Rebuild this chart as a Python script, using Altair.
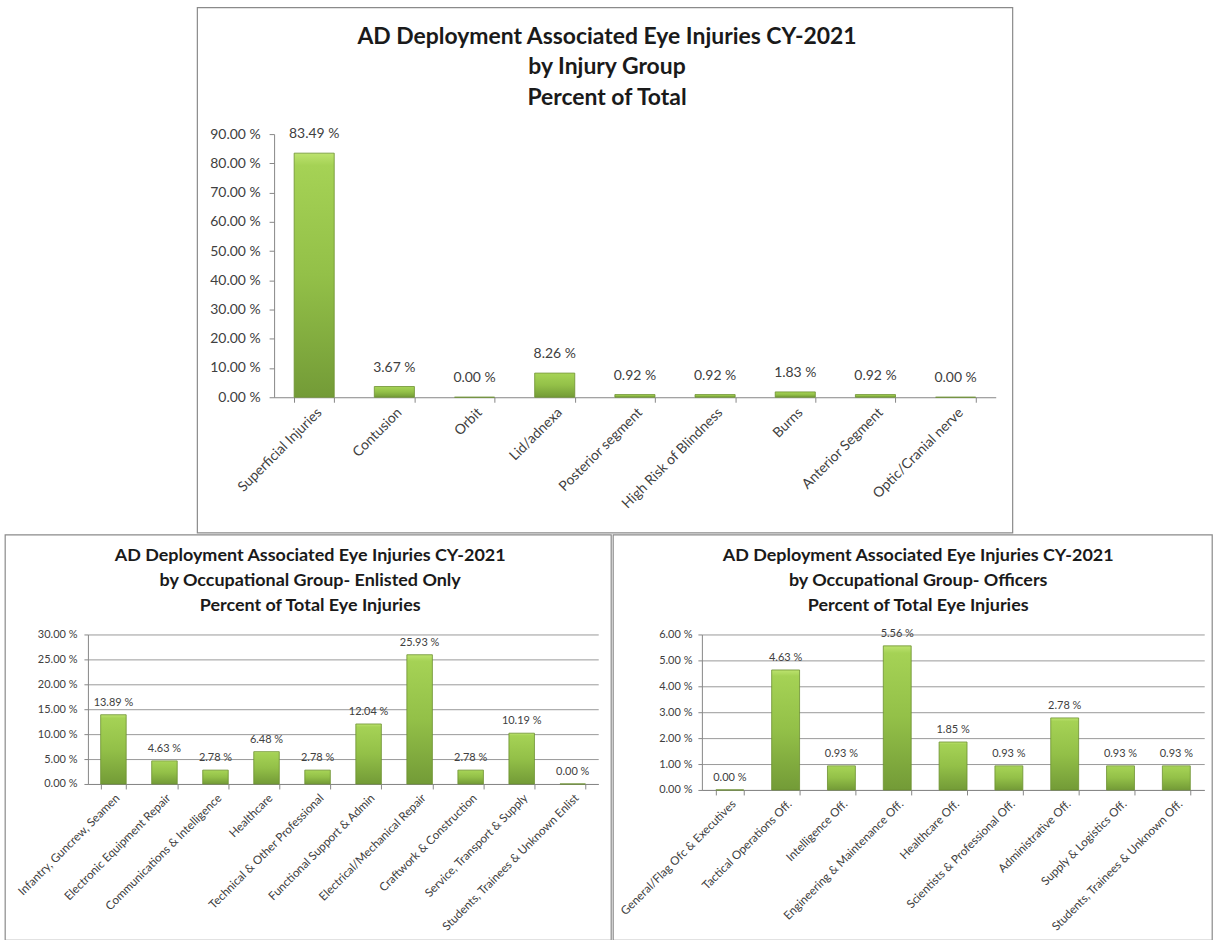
import altair as alt
import pandas as pd

# ---------------- data ----------------
injury_groups = ["Superficial Injuries", "Contusion", "Orbit", "Lid/adnexa",
                 "Posterior segment", "High Risk of Blindness", "Burns",
                 "Anterior Segment", "Optic/Cranial nerve"]
injury_pct = [83.49, 3.67, 0.00, 8.26, 0.92, 0.92, 1.83, 0.92, 0.00]

enlisted_groups = ["Infantry, Guncrew, Seamen", "Electronic Equipment Repair",
                   "Communications & Intelligence", "Healthcare",
                   "Technical & Other Professional", "Functional Support & Admin",
                   "Electrical/Mechanical Repair", "Craftwork & Construction",
                   "Service, Transport & Supply", "Students, Trainees & Unknown Enlist"]
enlisted_pct = [13.89, 4.63, 2.78, 6.48, 2.78, 12.04, 25.93, 2.78, 10.19, 0.00]

officer_groups = ["General/Flag Ofc & Executives", "Tactical Operations Off.",
                  "Intelligence Off.", "Engineering & Maintenance Off.",
                  "Healthcare Off.", "Scientists & Professional Off.",
                  "Administrative Off.", "Supply & Logistics Off.",
                  "Students, Trainees & Unknown Off."]
officer_pct = [0.00, 4.63, 0.93, 5.56, 1.85, 0.93, 2.78, 0.93, 0.93]

top_ticks = [0, 10, 20, 30, 40, 50, 60, 70, 80, 90]
enl_ticks = [0, 5, 10, 15, 20, 25, 30]
off_ticks = [0, 1, 2, 3, 4, 5, 6]

FONT = "Lato"
AXIS_GRAY = "#878787"
TEXT = "#404040"

bar_fill = alt.Gradient(
    gradient="linear", x1=0, x2=0, y1=0, y2=1,
    stops=[alt.GradientStop(offset=0, color="#bde36f"),
           alt.GradientStop(offset=0.05, color="#a5d255"),
           alt.GradientStop(offset=0.5, color="#93c048"),
           alt.GradientStop(offset=1, color="#739b37")])


def make_chart(cats, vals, ticks, width, height, frame, title_lines,
               title_size, line_height, title_offset, title_dx, font_size,
               label_dy, grid, tick_size, label_pad, x_label_size,
               right_reserve=None):
    df = pd.DataFrame({"cat": cats, "value": vals})
    base = alt.Chart(df).encode(
        x=alt.X("cat:N", sort=cats,
                scale=alt.Scale(paddingInner=0.5, paddingOuter=0.25),
                axis=alt.Axis(title=None, labelAngle=-45, tickBand="extent",
                              labelFont=FONT, labelFontSize=x_label_size,
                              labelColor=TEXT, domainColor=AXIS_GRAY,
                              tickColor=AXIS_GRAY, tickSize=5, labelPadding=3,
                              labelLimit=300)),
        y=alt.Y("value:Q",
                scale=alt.Scale(domain=[ticks[0], ticks[-1]], nice=False),
                axis=alt.Axis(title=None, values=ticks,
                              labelExpr="format(datum.value, '.2f') + ' %'",
                              labelFont=FONT, labelFontSize=font_size,
                              labelColor=TEXT, grid=grid, gridColor="#9a9a9a",
                              domainColor=AXIS_GRAY, tickColor=AXIS_GRAY,
                              tickSize=tick_size, labelPadding=label_pad)),
    )
    bars = base.mark_bar(color=bar_fill, stroke="#6c9030", strokeWidth=0.8)
    labels = base.transform_calculate(
        label="format(datum.value, '.2f') + ' %'"
    ).mark_text(font=FONT, fontSize=font_size, color=TEXT,
                baseline="middle", dy=label_dy).encode(text="label:N")
    x0, x1, y0, y1 = frame
    one = pd.DataFrame({"f": [0]})
    box = alt.Chart(one).mark_rect(
        fillOpacity=0, stroke="#8a8a8a", strokeWidth=1.2
    ).encode(x=alt.value(x0), x2=alt.value(x1), y=alt.value(y0), y2=alt.value(y1))
    layers = [box, bars, labels]
    if right_reserve is not None:
        spacer = alt.Chart(one).mark_rect(opacity=0).encode(
            x=alt.value(right_reserve - 1), x2=alt.value(right_reserve),
            y=alt.value(0), y2=alt.value(1))
        layers.insert(0, spacer)
    return alt.layer(*layers).properties(
        width=width, height=height,
        title=alt.TitleParams(title_lines, font=FONT, fontSize=title_size,
                              fontWeight="bold", color="#1a1a1a",
                              lineHeight=line_height, offset=title_offset,
                              dx=title_dx))


top = make_chart(injury_groups, injury_pct, top_ticks, 724, 264,
                 (-77, 741, -127, 400),
                 ["AD Deployment Associated Eye Injuries CY-2021",
                  "by Injury Group", "Percent of Total"],
                 23, 30.5, -103, -28, 14, -19, False, 5, 9, 14,
                 right_reserve=755)

enl = make_chart(enlisted_groups, enlisted_pct, enl_ticks, 512, 150,
                 (-83, 525, -100, 307),
                 ["AD Deployment Associated Eye Injuries CY-2021",
                  "by Occupational Group- Enlisted Only",
                  "Percent of Total Eye Injuries"],
                 18, 25, -81, -33, 11, -12, True, 4, 7, 11.7)

off = make_chart(officer_groups, officer_pct, off_ticks, 504, 156,
                 (-89, 512, -100, 307),
                 ["AD Deployment Associated Eye Injuries CY-2021",
                  "by Occupational Group- Officers",
                  "Percent of Total Eye Injuries"],
                 18, 25, -81, -35, 11, -12, True, 4, 6, 11.7)

chart = alt.vconcat(
    top,
    alt.hconcat(enl, off, spacing=0),
    spacing=0, center=True,
).properties(
    padding={"left": 4, "top": 5, "right": 2, "bottom": 0},
    background="white",
).configure_view(stroke=None)

chart.save("out.html", embed_options={"renderer": "svg", "actions": False})
